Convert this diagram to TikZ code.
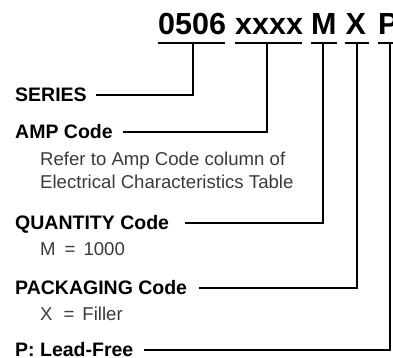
\documentclass[tikz,border=0pt]{standalone}
\usepackage{fontspec}
\setmainfont{Liberation Sans}
\definecolor{lighttext}{HTML}{3A3A3A}
\begin{document}
\begin{tikzpicture}[x=1pt,y=-1pt,
  title/.style={inner sep=0pt,anchor=base west,font=\fontsize{30.5}{34}\selectfont\bfseries},
  label/.style={inner sep=0pt,anchor=base west,font=\fontsize{19.5}{23}\selectfont\bfseries},
  note/.style={inner sep=0pt,anchor=base west,align=left,text=lighttext,font=\fontsize{18.6}{23}\selectfont},
  conn/.style={line width=1.6pt,line cap=butt,line join=miter},
  uline/.style={line width=1.6pt}]
\useasboundingbox (0,0) rectangle (393,358);
% title parts
\node[title] (t1) at (158,35) {0506};
\node[title] (t2) at (235,35) {xxxx};
\node[title] (t3) at (311,35) {M};
\node[title] (t4) at (345.5,35) {X};
\node[title] (t5) at (378,35) {P};
% underlines
\draw[uline] (158,43) -- (225,43);
\draw[uline] (235,43) -- (302,43);
\draw[uline] (311,43) -- (337,43);
\draw[uline] (345,43) -- (369,43);
\draw[uline] (378,43) -- (400,43);
\coordinate (u1) at (193,43);
\coordinate (u2) at (267,43);
\coordinate (u3) at (323,43);
\coordinate (u4) at (357,43);
\coordinate (u5) at (390,43);
% labels
\node[label] (series) at (15,102) {SERIES};
\node[label] (amp) at (15,139) {AMP Code};
\node[note] (ampnote) at (40,189) {Refer to Amp Code column of\\Electrical Characteristics Table};
\node[label] (qty) at (15,229) {QUANTITY Code};
\node[note] (qtynote) at (40,255) {M\hspace{9pt}=\hspace{8pt}1000};
\node[label] (pack) at (15,294) {PACKAGING Code};
\node[note] (packnote) at (40,320) {X\hspace{11pt}=\hspace{8pt}Filler};
\node[label] (lead) at (15,356) {P: Lead-Free};
% connectors
\draw[conn] ([xshift=9pt,yshift=7pt]series.base east) -| ([yshift=0.8pt]u1);
\draw[conn] ([xshift=10pt,yshift=7pt]amp.base east) -| ([yshift=0.8pt]u2);
\draw[conn] ([xshift=16pt,yshift=6pt]qty.base east) -| ([yshift=0.8pt]u3);
\draw[conn] ([xshift=12pt,yshift=6pt]pack.base east) -| ([yshift=0.8pt]u4);
\draw[conn] ([xshift=10pt,yshift=6pt]lead.base east) -| ([yshift=0.8pt]u5);
\end{tikzpicture}
\end{document}
